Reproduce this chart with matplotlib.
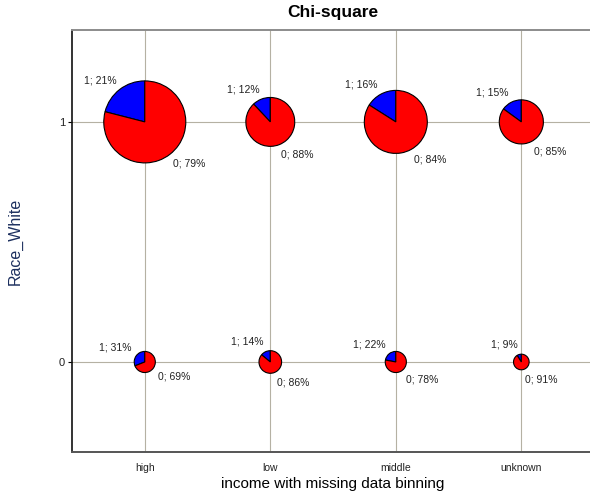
import matplotlib
matplotlib.use("Agg")
import matplotlib.pyplot as plt
import matplotlib.transforms as mtransforms
from matplotlib.patches import Wedge
import numpy as np

plt.rcParams["font.family"] = ["Liberation Sans", "DejaVu Sans"]

# income bins on x, Race_White level on y
income_bins = ["high", "low", "middle", "unknown"]
race_levels = [0, 1]

# number of records in each cell (drives pie size)
counts_race0 = [55, 63, 55, 30]
counts_race1 = [830, 295, 490, 240]

# share of "1" in each cell, in percent
pct_one_race0 = [31, 14, 22, 9]
pct_one_race1 = [21, 12, 16, 15]

fig = plt.figure(figsize=(5.9, 4.91), dpi=100)
ax = fig.add_axes([0.122, 0.0794, 0.885, 0.8596])

ax.set_xlim(-0.58, 3.58)
ax.set_ylim(-0.375, 1.383)
ax.set_xticks(range(len(income_bins)))
ax.set_xticklabels(income_bins, fontsize=7.5, color="#222222")
ax.set_yticks(race_levels)
ax.set_yticklabels([str(v) for v in race_levels], fontsize=8, color="#222222")
ax.tick_params(axis="x", length=0, pad=8)
ax.tick_params(axis="y", length=3, pad=2)
ax.grid(True, color="#b5b1a3", linewidth=0.8)
ax.set_axisbelow(True)

ax.spines["top"].set_color("#8c8c8c")
ax.spines["top"].set_linewidth(1.4)
ax.spines["right"].set_visible(False)
ax.spines["left"].set_color("#111111")
ax.spines["left"].set_linewidth(1.2)
ax.spines["bottom"].set_color("#555555")
ax.spines["bottom"].set_linewidth(1.4)

ax.set_title("Chi-square", fontsize=12.5, fontweight="bold", pad=9)
ax.set_xlabel("income with missing data binning", fontsize=11, labelpad=3)
ax.set_ylabel("Race_White", fontsize=11.5, color="#1c2f5e", labelpad=26)

r_max_px = 41.0
c_max = max(counts_race1 + counts_race0)
px = 72.0 / fig.dpi  # pixels -> points


def draw_pie(x, y, count, pct_one):
    r = r_max_px * np.sqrt(count / c_max)
    trans = (mtransforms.Affine2D().scale(r / fig.dpi)
             + fig.dpi_scale_trans
             + mtransforms.ScaledTranslation(x, y, ax.transData))
    a1 = 90 + 360 * pct_one / 100.0
    ax.add_patch(Wedge((0, 0), 1, 90, a1, facecolor="#0000ff",
                       edgecolor="black", linewidth=0.8, transform=trans, zorder=3))
    ax.add_patch(Wedge((0, 0), 1, a1, 450, facecolor="#ff0000",
                       edgecolor="black", linewidth=0.8, transform=trans, zorder=3))
    mid = np.deg2rad(90 + 180 * pct_one / 100.0)
    d = r + 5.5
    dx, dy = d * np.cos(mid), d * np.sin(mid)
    ax.annotate(f"1; {pct_one}%", (x, y), xytext=(dx * px, dy * px),
                textcoords="offset points", ha="right", va="bottom",
                fontsize=7.5, color="#222222", zorder=4)
    ax.annotate(f"0; {100 - pct_one}%", (x, y), xytext=(-dx * px, -dy * px),
                textcoords="offset points", ha="left", va="top",
                fontsize=7.5, color="#222222", zorder=4)


for i in range(len(income_bins)):
    draw_pie(i, 1, counts_race1[i], pct_one_race1[i])
    draw_pie(i, 0, counts_race0[i], pct_one_race0[i])

fig.savefig("out.png", dpi=100)
